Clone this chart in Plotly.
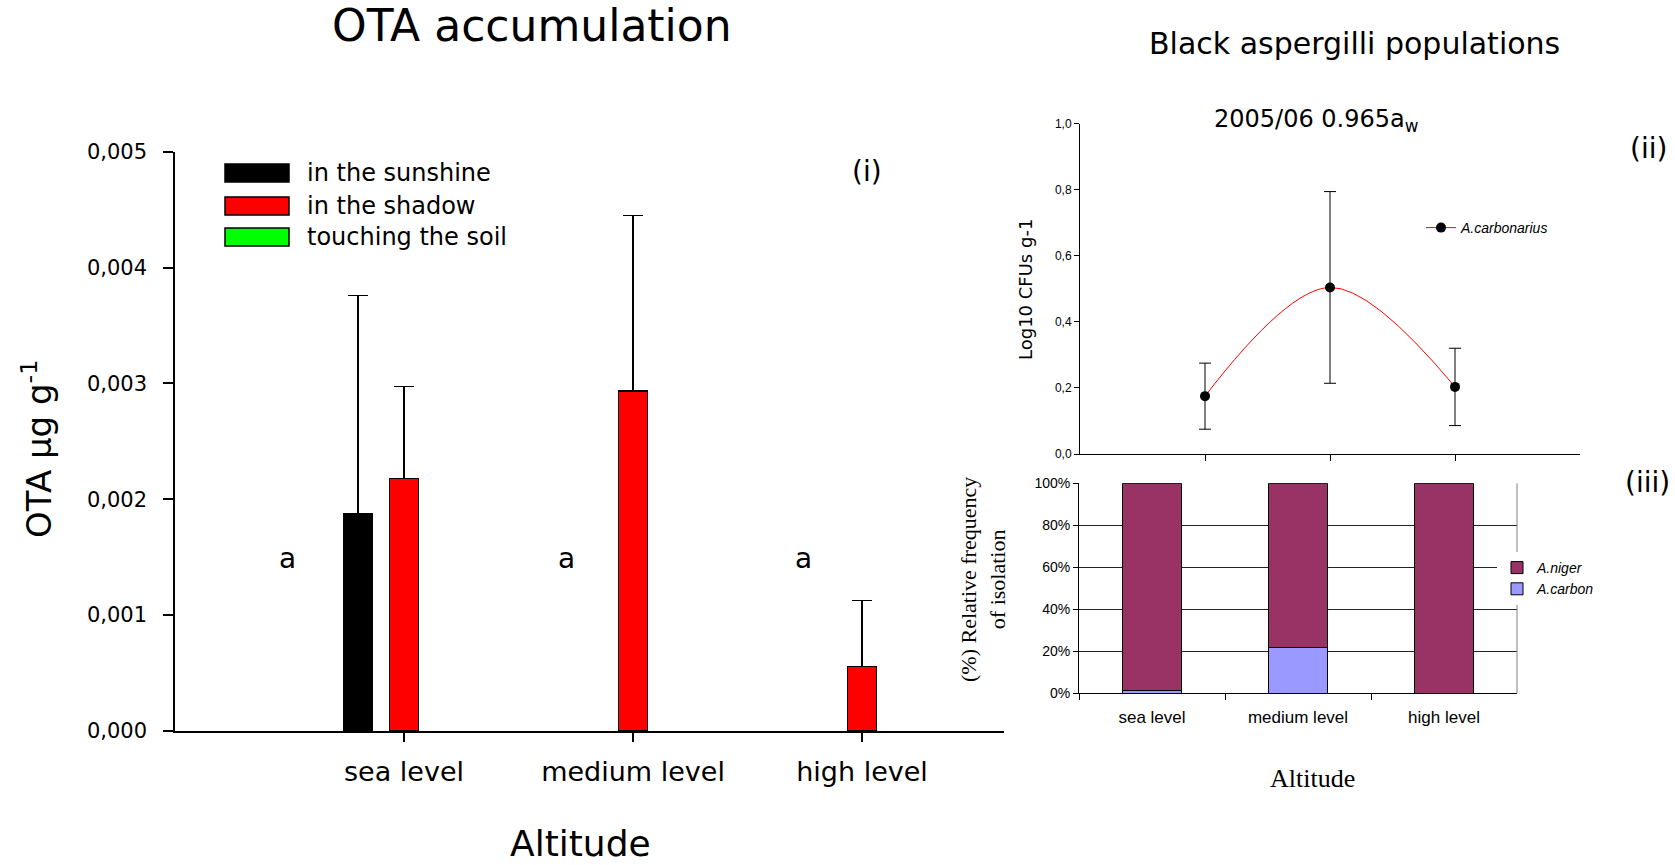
import plotly.graph_objects as go
import numpy as np

# ---------------- data ----------------
altitudes = ["sea level", "medium level", "high level"]

# OTA accumulation (µg g-1) and upper error bars
ota_sunshine = [0.001875, None, None]
ota_sunshine_err = [0.001885, 0, 0]
ota_shadow = [0.00218, 0.002935, 0.000557]
ota_shadow_err = [0.000795, 0.001515, 0.000571]
ota_soil = [None, None, None]
ota_letters = ["a", "a", "a"]

# Black aspergilli counts (log10 CFU g-1)
carbonarius_log = [0.175, 0.504, 0.203]
carbonarius_sd = [0.100, 0.290, 0.117]

# Relative frequency of isolation (%)
freq_carbon = [1.4, 21.7, 0.0]
freq_niger = [98.6, 78.3, 100.0]

W, H = 1675, 865
SANS = "DejaVu Sans"
ARIAL = "Liberation Sans"
SERIF = "Liberation Serif"


def px(x):
    return x / W


def py(y):
    return 1 - y / H


pos = np.arange(1, len(altitudes) + 1)
bar_w = 0.125
shift = 0.2

fig = go.Figure()

# ---------------- (i) OTA bars ----------------
fig.add_trace(go.Bar(
    x=pos - shift, y=ota_sunshine, width=bar_w, name="in the sunshine",
    marker=dict(color="#000000", line=dict(color="#000000", width=1)),
    error_y=dict(type="data", symmetric=False, array=ota_sunshine_err,
                 arrayminus=[0] * 3, color="#000000", thickness=1.5, width=10),
    xaxis="x", yaxis="y", showlegend=False))
fig.add_trace(go.Bar(
    x=pos, y=ota_shadow, width=bar_w, name="in the shadow",
    marker=dict(color="#FF0000", line=dict(color="#000000", width=1.2)),
    error_y=dict(type="data", symmetric=False, array=ota_shadow_err,
                 arrayminus=[0] * 3, color="#000000", thickness=1.5, width=10),
    xaxis="x", yaxis="y", showlegend=False))
fig.add_trace(go.Bar(
    x=pos + shift, y=ota_soil, width=bar_w, name="touching the soil",
    marker=dict(color="#00FF00", line=dict(color="#000000", width=1.2)),
    xaxis="x", yaxis="y", showlegend=False))

# ---------------- (ii) A. carbonarius counts ----------------
fig.add_trace(go.Scatter(
    x=pos, y=carbonarius_log, mode="lines+markers", name="<i>A.carbonarius</i>",
    line=dict(color="#FF0000", width=1, shape="spline"),
    marker=dict(color="#000000", size=10),
    error_y=dict(type="data", array=carbonarius_sd, color="#000000",
                 thickness=1, width=6),
    xaxis="x2", yaxis="y2", legend="legend2"))

# ---------------- (iii) relative frequency ----------------
fig.add_trace(go.Bar(
    x=altitudes, y=freq_carbon, name="<i>A.carbon</i>",
    marker=dict(color="#9999FF", line=dict(color="#000000", width=1)),
    xaxis="x3", yaxis="y3", legend="legend3"))
fig.add_trace(go.Bar(
    x=altitudes, y=freq_niger, name="<i>A.niger</i>",
    marker=dict(color="#993366", line=dict(color="#000000", width=1)),
    xaxis="x3", yaxis="y3", legend="legend3"))

axis_common = dict(showline=True, linecolor="#000000", zeroline=False,
                   showgrid=False, ticks="outside", tickcolor="#000000",
                   automargin=False)

fig.update_layout(
    width=W, height=H,
    margin=dict(l=0, r=0, t=0, b=0, pad=0, autoexpand=False),
    paper_bgcolor="white", plot_bgcolor="rgba(0,0,0,0)",
    separators=",.", barmode="stack", bargap=0.6,
    font=dict(family=SANS, color="#000000"),
    xaxis=dict(axis_common, domain=[px(175), px(1004)], range=[0, 3.62],
               tickvals=pos, ticktext=altitudes, ticklen=9, linewidth=1.5,
               tickwidth=1.5, ticklabelstandoff=7,
               tickfont=dict(family=SANS, size=27), anchor="y"),
    yaxis=dict(axis_common, domain=[py(731), py(151.7)], range=[0, 0.005],
               dtick=0.001, tickformat=".3f", ticklen=10, linewidth=1.5,
               tickwidth=1.5, ticklabelstandoff=12,
               tickfont=dict(family=SANS, size=21), anchor="x"),
    xaxis2=dict(axis_common, domain=[px(1080), px(1580)], range=[0, 4],
                tickvals=pos, showticklabels=False, ticklen=6, linewidth=1,
                anchor="y2"),
    yaxis2=dict(axis_common, domain=[py(454), py(123.5)], range=[0, 1],
                dtick=0.2, tickformat=".1f", ticklen=5, linewidth=1,
                tickfont=dict(family=ARIAL, size=12), anchor="x2"),
    xaxis3=dict(axis_common, domain=[px(1079), px(1517)], type="category",
                tickson="boundaries", ticklen=6, linewidth=1,
                ticklabelstandoff=8,
                tickfont=dict(family=ARIAL, size=17), anchor="y3"),
    yaxis3=dict(axis_common, domain=[py(693.3), py(483.3)], range=[0, 100],
                dtick=20, ticksuffix="%", ticklen=5, linewidth=1,
                showgrid=True, gridcolor="#222222", gridwidth=1,
                tickfont=dict(family=ARIAL, size=14), anchor="x3"),
    legend2=dict(x=px(1421), y=py(212), xanchor="left", yanchor="top",
                 bgcolor="rgba(0,0,0,0)", font=dict(family=ARIAL, size=14)),
    legend3=dict(x=px(1497), y=py(552), xanchor="left", yanchor="top",
                 bgcolor="white", traceorder="reversed", tracegroupgap=0,
                 font=dict(family=ARIAL, size=14)),
)

shapes = []
# legend swatches for the OTA chart
swatches = [("#000000", "in the sunshine"), ("#FF0000", "in the shadow"),
            ("#00FF00", "touching the soil")]
row_y = [173, 206, 237]
annotations = []
for (col, label), yc in zip(swatches, row_y):
    shapes.append(dict(type="rect", xref="paper", yref="paper",
                       x0=px(225), x1=px(289), y0=py(yc + 9), y1=py(yc - 9),
                       fillcolor=col, line=dict(color="#000000", width=1.5)))
    annotations.append(dict(text=label, x=px(305), y=py(yc), xref="paper",
                            yref="paper", xanchor="left", yanchor="middle",
                            showarrow=False, font=dict(family=SANS, size=24)))

# grey right border of the frequency chart
shapes.append(dict(type="line", xref="x3 domain", yref="y3 domain",
                   x0=1, x1=1, y0=0, y1=1, line=dict(color="#808080", width=1)))

# significance letters
letter_x = [0.49, 1.71, 2.745]
for lx, t in zip(letter_x, ota_letters):
    annotations.append(dict(text=t, x=lx, y=0.00149, xref="x", yref="y",
                            showarrow=False, font=dict(family=SANS, size=28)))


def note(text, x, y, size, family=SANS, angle=0, xanchor="center"):
    annotations.append(dict(text=text, x=px(x), y=py(y), xref="paper",
                            yref="paper", showarrow=False, textangle=angle,
                            xanchor=xanchor, yanchor="middle",
                            font=dict(family=family, size=size, color="#000000")))


note("OTA accumulation", 532, 26, 44)
note("OTA µg g<sup>-1</sup>", 37, 449, 34, angle=-90)
note("Altitude", 580, 843, 36)
note("(i)", 867, 171, 28)
note("Black aspergilli populations", 1354, 43, 30)
note("2005/06 0.965a<sub>w</sub>", 1316, 121, 24)
note("Log10 CFUs g-1", 1026, 290, 18, angle=-90)
note("(ii)", 1648, 149, 28)
note("(iii)", 1647, 482, 28)
note("(%) Relative frequency<br>of isolation", 983, 580, 22, family=SERIF,
     angle=-90)
note("Altitude", 1312, 778, 26, family=SERIF)

fig.update_layout(shapes=shapes, annotations=annotations)

fig.write_html("out.html")
